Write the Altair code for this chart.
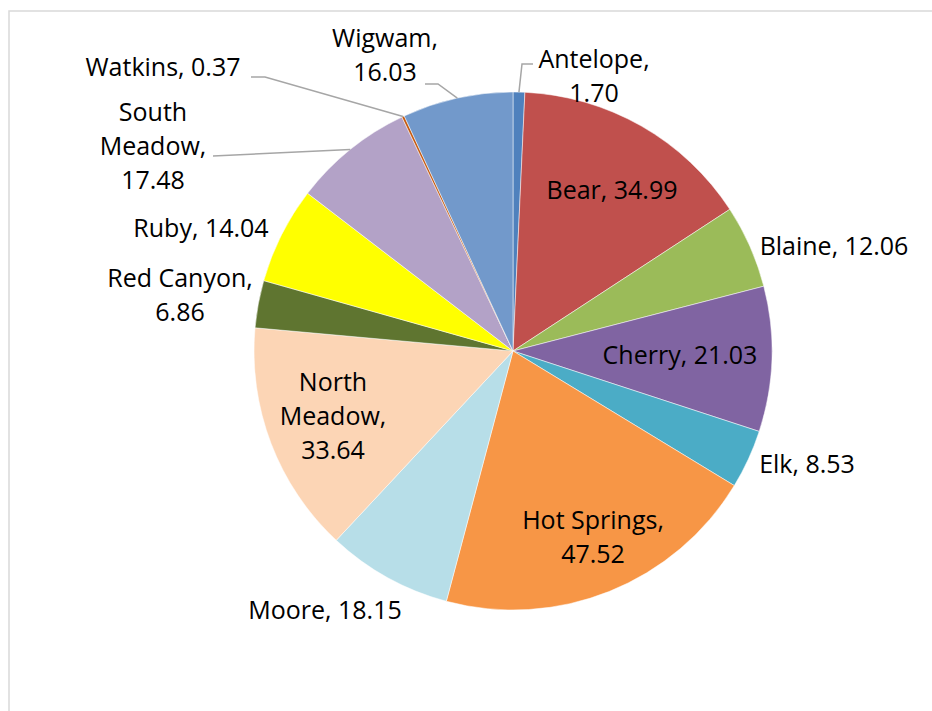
import math
import pandas as pd
import altair as alt

# ---- data ----
categories = ["Antelope", "Bear", "Blaine", "Cherry", "Elk", "Hot Springs", "Moore",
              "North Meadow", "Red Canyon", "Ruby", "South Meadow", "Watkins", "Wigwam"]
values = [1.70, 34.99, 12.06, 21.03, 8.53, 47.52, 18.15, 33.64, 6.86, 14.04, 17.48, 0.37, 16.03]

# ---- styles ----
colors = ["#4F81BD", "#C0504D", "#9BBB59", "#8064A2", "#4BACC6", "#F79646", "#B7DEE8",
          "#FCD5B5", "#5F7530", "#FFFF00", "#B3A2C7", "#C55A11", "#7299CB"]

# ---- layout (pixel geometry) ----
CX, CY, R = 513, 351, 259
# how label text wraps: 1 = one line, 2 = "name,\nvalue", 3 = words on own lines
wrap = {"Antelope": 2, "Wigwam": 2, "Hot Springs": 2, "Red Canyon": 2,
        "South Meadow": 3, "North Meadow": 3}
# centre of first text line of each label
label_pos = {
    "Antelope": (594, 60), "Bear": (612, 191), "Blaine": (834, 247), "Cherry": (680, 356),
    "Elk": (807, 465), "Hot Springs": (593, 521), "Moore": (325, 611),
    "North Meadow": (333, 383), "Red Canyon": (180, 279), "Ruby": (201, 229),
    "South Meadow": (153, 113), "Watkins": (163, 68), "Wigwam": (385, 39),
}
# leader line points after the slice edge point
leaders = {
    "Antelope": [(522, 64), (533, 64)],
    "Wigwam": [(438, 84), (425, 84)],
    "Watkins": [(265, 77), (251, 77)],
    "South Meadow": [(213, 156)],
}

total = sum(values)
rows, lab_rows, lead_rows = [], [], []
cum = 0.0
for i, (c, v) in enumerate(zip(categories, values)):
    mid = (cum + v / 2) / total * 2 * math.pi
    cum += v
    rows.append({"category": c, "value": v, "idx": i})
    vs = f"{v:.2f}"
    mode = wrap.get(c, 1)
    if mode == 1:
        txt = f"{c}, {vs}"
    elif mode == 2:
        txt = f"{c},\n{vs}"
    else:
        words = c.split(" ")
        txt = "\n".join(words[:-1] + [words[-1] + ",", vs])
    lx, ly = label_pos[c]
    lab_rows.append({"category": c, "text": txt, "lx": lx, "ly": ly})
    if c in leaders:
        ex = CX + R * math.sin(mid)
        ey = CY - R * math.cos(mid)
        pts = [(ex, ey)] + leaders[c]
        for k, (px, py) in enumerate(pts):
            lead_rows.append({"category": c, "px": px, "py": py, "ord": k})

df = pd.DataFrame(rows)
lab_df = pd.DataFrame(lab_rows)
lead_df = pd.DataFrame(lead_rows)

border = alt.Chart(pd.DataFrame({"k": [0]})).mark_rect(
    filled=False, stroke="#D9D9D9", strokeWidth=1.5
).encode(x=alt.value(9), y=alt.value(11), x2=alt.value(1400), y2=alt.value(1400))

arc = alt.Chart(df).mark_arc(outerRadius=R, stroke="white", strokeWidth=0.5).encode(
    theta=alt.Theta("value:Q", stack=True),
    color=alt.Color("category:N", scale=alt.Scale(domain=categories, range=colors), legend=None),
    order=alt.Order("idx:Q"),
    x=alt.value(CX),
    y=alt.value(CY),
)

lines = alt.Chart(lead_df).mark_line(color="#A6A6A6", strokeWidth=1.5).encode(
    x=alt.X("px:Q", scale=None, axis=None),
    y=alt.Y("py:Q", scale=None, axis=None),
    detail="category:N",
    order="ord:Q",
)

text = alt.Chart(lab_df).mark_text(
    font="Open Sans", fontSize=25, lineBreak="\n", lineHeight=34,
    baseline="middle", align="center", color="black",
).encode(
    x=alt.X("lx:Q", scale=None, axis=None),
    y=alt.Y("ly:Q", scale=None, axis=None),
    text="text:N",
)

chart = alt.layer(border, arc, lines, text).properties(
    width=932, height=711, padding=0, autosize="none", background="white"
).configure_view(strokeWidth=0)

chart.save("out.html", embed_options={"renderer": "svg", "actions": False})
